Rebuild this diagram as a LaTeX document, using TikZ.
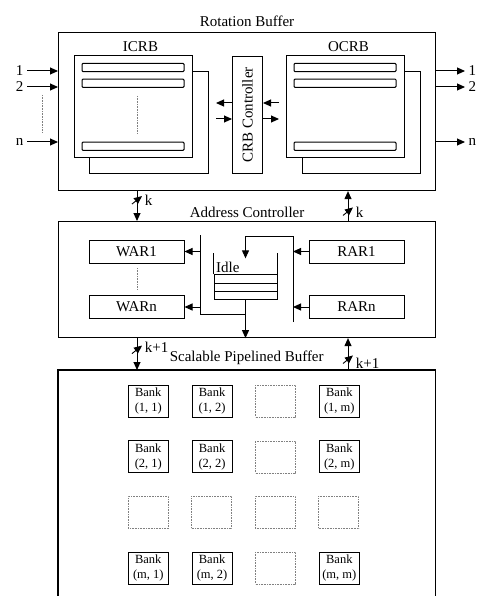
\documentclass[tikz,border=0pt]{standalone}
\usepackage{fontspec}
\setmainfont{Liberation Serif}
\usetikzlibrary{arrows.meta, positioning, calc}

\begin{document}
\begin{tikzpicture}[
    x=1pt, y=-1pt,
    node distance=22.8pt and 22.8pt,
    font=\fontsize{15}{17}\selectfont,
    frame/.style={draw, line width=1.1pt, anchor=north west, inner sep=0pt},
    blk/.style={draw, line width=1pt, fill=white, anchor=north west, inner sep=0pt},
    bar/.style={draw, line width=1pt, fill=white, rounded corners=1pt, minimum width=102pt, minimum height=8.3pt, inner sep=0pt},
    reg/.style={draw, line width=1pt, minimum width=95pt, minimum height=23pt, inner sep=0pt},
    bank/.style={draw, line width=1pt, minimum width=40pt, minimum height=32pt, inner sep=0pt, align=center, font=\fontsize{12.5}{14.5}\selectfont},
    ghost/.style={draw, densely dotted, gray, line width=0.6pt, minimum width=40pt, minimum height=32pt, inner sep=0pt},
    slot/.style={draw, line width=1pt, minimum width=63pt, minimum height=8.3pt, inner sep=0pt},
    arr/.style={-{Triangle[length=8pt,width=7pt]}, line width=1pt},
    wire/.style={line width=1pt},
    dotline/.style={densely dotted, gray, line width=0.6pt},
    buscut/.pic={\draw[line width=0.9pt] (-5,4) -- (5,-4);}
]
\useasboundingbox (0,0) rectangle (481,596);

\node[frame, minimum width=377pt, minimum height=158pt] (rb) at (58,32) {};
\node[above=2pt of rb] (rbl) {Rotation Buffer};

\node[blk, minimum width=119pt, minimum height=102pt] (icrbb) at (89,71) {};
\node[blk, minimum width=118pt, minimum height=102pt] (icrb) at (74,55) {};
\node[above=0pt of icrb.north, xshift=7pt] (icrbl) {ICRB};
\node[bar] (ib1) at (133,67.5) {};
\node[bar] (ib2) at (133,83.2) {};
\node[bar] (ibn) at (133,146.3) {};
\draw[dotline] (137,96) -- (137,133);

\node[blk, minimum width=30pt, minimum height=117pt] (crb) at (232,56) {};
\node[rotate=90] (crbl) at (crb.center) {CRB Controller};
\coordinate (ca1) at (216,103);
\coordinate (ca2) at (216,119);
\coordinate (cb1) at (279,103);
\coordinate (cb2) at (279,119);
\draw[arr] (crb.west |- ca1) -- (ca1);
\draw[arr] (ca2) -- (crb.west |- ca2);
\draw[arr] (cb1) -- (crb.east |- cb1);
\draw[arr] (crb.east |- cb2) -- (cb2);

\node[blk, minimum width=118pt, minimum height=102pt] (ocrbb) at (302,71) {};
\node[blk, minimum width=118pt, minimum height=102pt] (ocrb) at (286,55) {};
\node[above=0pt of ocrb.north, xshift=3pt] (ocrbl) {OCRB};
\node[bar] (ob1) at (345,67.5) {};
\node[bar] (ob2) at (345,83.2) {};
\node[bar] (obn) at (345,146.3) {};

\node[anchor=east] (in1) at (27,71) {1};
\node[anchor=east] (in2) at (27,87) {2};
\node[anchor=east] (inn) at (27,142) {n};
\draw[arr] (in1) -- (in1 -| rb.west);
\draw[arr] (in2) -- (in2 -| rb.west);
\draw[arr] (inn) -- (inn -| rb.west);
\draw[dotline] (42,95) -- (42,132);

\node[anchor=west] (out1) at (465,71) {1};
\node[anchor=west] (out2) at (465,87) {2};
\node[anchor=west] (outn) at (465,142) {n};
\draw[arr] (out1 -| rb.east) -- (out1);
\draw[arr] (out2 -| rb.east) -- (out2);
\draw[arr] (outn -| rb.east) -- (outn);

\node[frame, minimum width=377pt, minimum height=116pt] (ac) at (58,221) {};
\node[above=0pt of ac] (acl) {Address Controller};
\node[reg] (war1) at (136.5,251.5) {WAR1};
\node[reg] (warn) at (136.5,307) {WARn};
\node[reg] (rar1) at (356.5,251.5) {RAR1};
\node[reg] (rarn) at (356.5,307) {RARn};
\draw[dotline] (137,268) -- (137,290);

\node[slot] (s1) at (245.5,279) {};
\node[slot] (s2) at (245.5,287.3) {};
\node[slot] (s3) at (245.5,295.6) {};
\draw[wire] (s1.north west) -- ++(0,-21);
\draw[wire] (s1.north east) -- ++(0,-21);
\node[anchor=south west, inner sep=1.5pt, xshift=1pt] (idle) at (s1.north west) {Idle};

\coordinate (rtop) at (293,236);
\coordinate (rbot) at (293,322);
\draw[wire] (rbot) -- (rtop);
\draw[arr] (rtop) -| ($(s1.north)+(0,-16)$);
\draw[arr] (rar1) -- (rar1 -| rtop);
\draw[arr] (rarn) -- (rarn -| rtop);

\coordinate (ltop) at (200,235);
\coordinate (lbot) at (200,314);
\draw[wire] (ltop) -- (lbot) -| (s3.south);
\draw[arr] (war1 -| ltop) -- (war1);
\draw[arr] (warn -| ltop) -- (warn);
\draw[arr] (s3.south) -- (s3.south |- ac.south);

\node[anchor=north west, minimum width=377pt, minimum height=232pt, inner sep=0pt] (spb) at (58,370) {};
\draw[line width=1.1pt] (spb.south west) |- (spb.north east) -- (spb.south east);
\node[above=2pt of spb] (spbl) {Scalable Pipelined Buffer};

\coordinate (wbus) at (137,0);
\coordinate (rbus) at (348,0);
\draw[arr] (wbus |- rb.south) -- pic[pos=0.3]{buscut} node[pos=0.3, right=4pt] (kw1) {k} (wbus |- ac.north);
\draw[arr] (rbus |- ac.north) -- pic[pos=0.32]{buscut} node[pos=0.3, right=4pt] (kr1) {k} (rbus |- rb.south);
\draw[arr] (wbus |- ac.south) -- pic[pos=0.36]{buscut} node[pos=0.3, right=4pt] (kw2) {k+1} (wbus |- spb.north);
\draw[arr] (rbus |- spb.north) -- pic[pos=0.33]{buscut} node[pos=0.2, right=4pt] (kr2) {k+1} (rbus |- ac.south);

\node[bank] (b11) at (148.3,401) {Bank\\(1, 1)};
\node[bank, right=of b11] (b12) {Bank\\(1, 2)};
\node[ghost, right=of b12] (b13) {};
\node[bank, right=of b13] (b1m) {Bank\\(1, m)};
\node[bank, below=of b11] (b21) {Bank\\(2, 1)};
\node[bank, right=of b21] (b22) {Bank\\(2, 2)};
\node[ghost, right=of b22] (b23) {};
\node[bank, right=of b23] (b2m) {Bank\\(2, m)};
\node[ghost, below=of b21] (b31) {};
\node[ghost, right=of b31] (b32) {};
\node[ghost, right=of b32] (b33) {};
\node[ghost, right=of b33] (b3m) {};
\node[bank, below=of b31] (bm1) {Bank\\(m, 1)};
\node[bank, right=of bm1] (bm2) {Bank\\(m, 2)};
\node[ghost, right=of bm2] (bm3) {};
\node[bank, right=of bm3] (bmm) {Bank\\(m, m)};

\end{tikzpicture}
\end{document}
